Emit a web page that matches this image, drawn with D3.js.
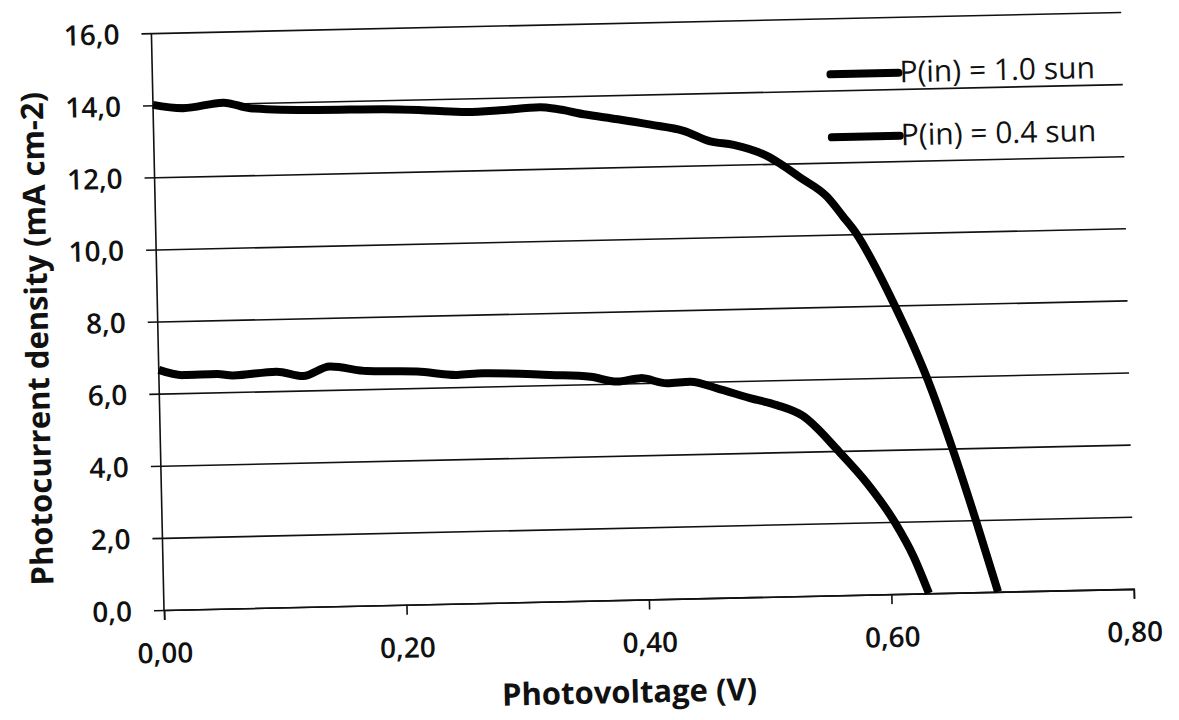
<!DOCTYPE html>
<html>
<head>
<meta charset="utf-8">
<script src="https://cdn.jsdelivr.net/npm/d3@7"></script>
<style>
  html, body { margin: 0; padding: 0; background: #fff; }
  svg { display: block; }
  text { font-family: "Open Sans", "Noto Sans", sans-serif; fill: #111; }
</style>
</head>
<body>
<svg id="chart" width="1179" height="720"></svg>
<script>
// J–V curves of the cell under two illumination levels
const voltageFullSun = [0, 0.025, 0.058, 0.080, 0.135, 0.190, 0.245, 0.259, 0.286, 0.319, 0.333, 0.355, 0.383, 0.410, 0.437, 0.459, 0.478, 0.506, 0.516, 0.532, 0.554, 0.567, 0.578, 0.594, 0.608, 0.623, 0.633, 0.653, 0.671, 0.688];
const currentFullSun = [14.01, 13.90, 14.03, 13.86, 13.77, 13.75, 13.65, 13.62, 13.65, 13.71, 13.65, 13.49, 13.33, 13.16, 12.97, 12.66, 12.55, 12.21, 12.00, 11.61, 11.06, 10.50, 10.00, 9.00, 8.00, 6.85, 6.00, 4.00, 2.00, 0];

const voltagePartSun = [0, 0.020, 0.048, 0.061, 0.097, 0.119, 0.141, 0.172, 0.213, 0.246, 0.267, 0.323, 0.356, 0.378, 0.397, 0.419, 0.438, 0.460, 0.487, 0.509, 0.530, 0.559, 0.582, 0.604, 0.619, 0.631];
const currentPartSun = [6.66, 6.50, 6.51, 6.46, 6.54, 6.40, 6.65, 6.50, 6.46, 6.34, 6.37, 6.28, 6.21, 6.06, 6.14, 5.98, 6.01, 5.81, 5.52, 5.31, 5.00, 4.00, 3.09, 2.00, 1.03, 0];

const seriesNames = ["P(in) = 1.0 sun", "P(in) = 0.4 sun"];
const xTicks = [0, 0.2, 0.4, 0.6, 0.8];
const yTicks = [0, 2, 4, 6, 8, 10, 12, 14, 16];
const xTitle = "Photovoltage (V)";
const yTitle = "Photocurrent density (mA cm-2)";

const W = 970, H = 577;
const svg = d3.select("#chart");
// whole plot sits slightly tilted, pivoting on the origin
const g = svg.append("g")
  .attr("transform", "translate(164,610) rotate(-1.25) translate(0," + (-H) + ")");

const x = d3.scaleLinear().domain([0, 0.8]).range([0, W]);
const y = d3.scaleLinear().domain([0, 16]).range([H, 0]);

const comma = d3.formatLocale({ decimal: ",", thousands: ".", grouping: [3], currency: ["", ""] });

// horizontal grid with outward tick stubs and the value labels
const yAxis = g.append("g")
  .attr("transform", "translate(-10,0)")
  .call(d3.axisLeft(y).tickValues(yTicks).tickSize(-(W + 10)).tickFormat(comma.format(".1f")));
yAxis.select(".domain").remove();
yAxis.selectAll(".tick line").attr("stroke", "#111").attr("stroke-width", 1.6);
yAxis.selectAll(".tick text")
  .attr("x", -22).attr("dy", "0.36em")
  .style("font-size", "28px").style("font-weight", 600).attr("fill", "#111");

// vertical axis line
g.append("line")
  .attr("x1", 0).attr("x2", 0).attr("y1", 0).attr("y2", H)
  .attr("stroke", "#111").attr("stroke-width", 1.6);

// horizontal axis
const xAxis = g.append("g")
  .attr("transform", "translate(0," + H + ")")
  .call(d3.axisBottom(x).tickValues(xTicks).tickSize(10).tickSizeOuter(10).tickFormat(comma.format(".2f")));
xAxis.select(".domain").attr("stroke", "#111").attr("stroke-width", 1.6);
xAxis.selectAll(".tick line").attr("stroke", "#111").attr("stroke-width", 1.6);
xAxis.selectAll(".tick text")
  .attr("y", 53).attr("dy", 0)
  .style("font-size", "28px").style("font-weight", 600).attr("fill", "#111");

// curves
const line = d3.line()
  .x(d => x(d[0]))
  .y(d => y(d[1]))
  .curve(d3.curveMonotoneX);

const series = [
  d3.zip(voltageFullSun, currentFullSun),
  d3.zip(voltagePartSun, currentPartSun)
];

g.selectAll("path.curve")
  .data(series)
  .join("path")
  .attr("class", "curve")
  .attr("d", line)
  .attr("fill", "none")
  .attr("stroke", "#000")
  .attr("stroke-width", 8)
  .attr("stroke-linejoin", "round");

// legend
const legend = g.append("g").attr("transform", "translate(678," + (H - 521) + ")");
seriesNames.forEach((name, i) => {
  const row = legend.append("g").attr("transform", "translate(0," + (i * 63) + ")");
  row.append("line")
    .attr("x1", 0).attr("x2", 68).attr("y1", 0).attr("y2", 0)
    .attr("stroke", "#000").attr("stroke-width", 8).attr("stroke-linecap", "round");
  row.append("text")
    .attr("x", 69).attr("y", -1).attr("dy", "0.35em")
    .style("font-size", "30px").style("font-weight", 500)
    .text(name);
});

// axis titles
g.append("text")
  .attr("x", W * 0.478).attr("y", H + 103)
  .attr("text-anchor", "middle")
  .style("font-size", "31px").style("font-weight", 700)
  .text(xTitle);

g.append("text")
  .attr("transform", "translate(-110," + (H - 274) + ") rotate(-90)")
  .attr("text-anchor", "middle")
  .style("font-size", "31px").style("font-weight", 700)
  .text(yTitle);
</script>
</body>
</html>
